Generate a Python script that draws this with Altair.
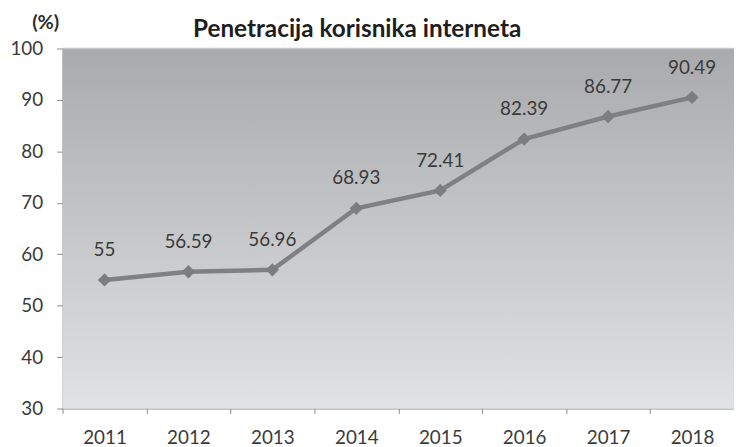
import altair as alt
import pandas as pd

years = ["2011", "2012", "2013", "2014", "2015", "2016", "2017", "2018"]
values = [55, 56.59, 56.96, 68.93, 72.41, 82.39, 86.77, 90.49]
labels = ["55", "56.59", "56.96", "68.93", "72.41", "82.39", "86.77", "90.49"]
title_text = "Penetracija korisnika interneta"
unit_text = "(%)"

df = pd.DataFrame({"year": years, "value": values, "label": labels})

W, H = 677, 363
FONT = "Lato"

xenc = alt.X("year:N", sort=years, title=None,
             scale=alt.Scale(paddingInner=0, paddingOuter=0),
             axis=alt.Axis(labelAngle=0, tickBand="extent", labelFontSize=19,
                           labelColor="#3a3a3a", labelPadding=15, tickSize=5,
                           domainColor="#8a8a8a", tickColor="#8a8a8a", labelFont=FONT))
yenc = alt.Y("value:Q", scale=alt.Scale(domain=[30, 100]),
             axis=alt.Axis(values=[30, 40, 50, 60, 70, 80, 90, 100], grid=False,
                           title=None,
                           labelFontSize=19, labelColor="#3a3a3a", labelPadding=14,
                           tickSize=6, domainColor="#8a8a8a", tickColor="#8a8a8a",
                           labelFont=FONT))

grad = alt.LinearGradient(gradient="linear", x1=0, x2=0, y1=0, y2=1,
                          stops=[alt.GradientStop(color="#a9aaac", offset=0),
                                 alt.GradientStop(color="#e1e2e4", offset=1)])

one = pd.DataFrame({"t": [title_text], "u": [unit_text]})

bg = alt.Chart(one).mark_rect(color=grad).encode(
    x=alt.value(0), x2=alt.value(W), y=alt.value(0), y2=alt.value(H))

top = alt.Chart(one).mark_rule(color="#c4c5c7", strokeWidth=1.5).encode(
    x=alt.value(0), x2=alt.value(W), y=alt.value(0))

title = alt.Chart(one).mark_text(fontSize=24.5, font=FONT, fontWeight="bold",
                                 color="#1e1e1e", baseline="alphabetic", align="center").encode(
    x=alt.value(297), y=alt.value(-12), text="t:N")

unit = alt.Chart(one).mark_text(fontSize=20, font=FONT, fontWeight="bold",
                                color="#2e2e2e", baseline="alphabetic", align="center").encode(
    x=alt.value(-17), y=alt.value(-20), text="u:N")

base = alt.Chart(df).encode(x=xenc, y=yenc)

line = base.mark_line(color="#808082", strokeWidth=4.5)
pts = base.mark_point(shape="diamond", filled=True, color="#7c7d7f", size=180, opacity=1)
txt = base.mark_text(dy=-30, fontSize=19, color="#3a3a3a", font=FONT).encode(text="label:N")

chart = alt.layer(bg, top, line, pts, txt, title, unit).properties(
    width=W, height=H,
    autosize=alt.AutoSizeParams(type="none"),
    padding={"left": 55, "top": 39, "right": 0, "bottom": 37},
).configure_view(stroke=None)

chart.save("out.html", embed_options={"renderer": "svg", "actions": False})
